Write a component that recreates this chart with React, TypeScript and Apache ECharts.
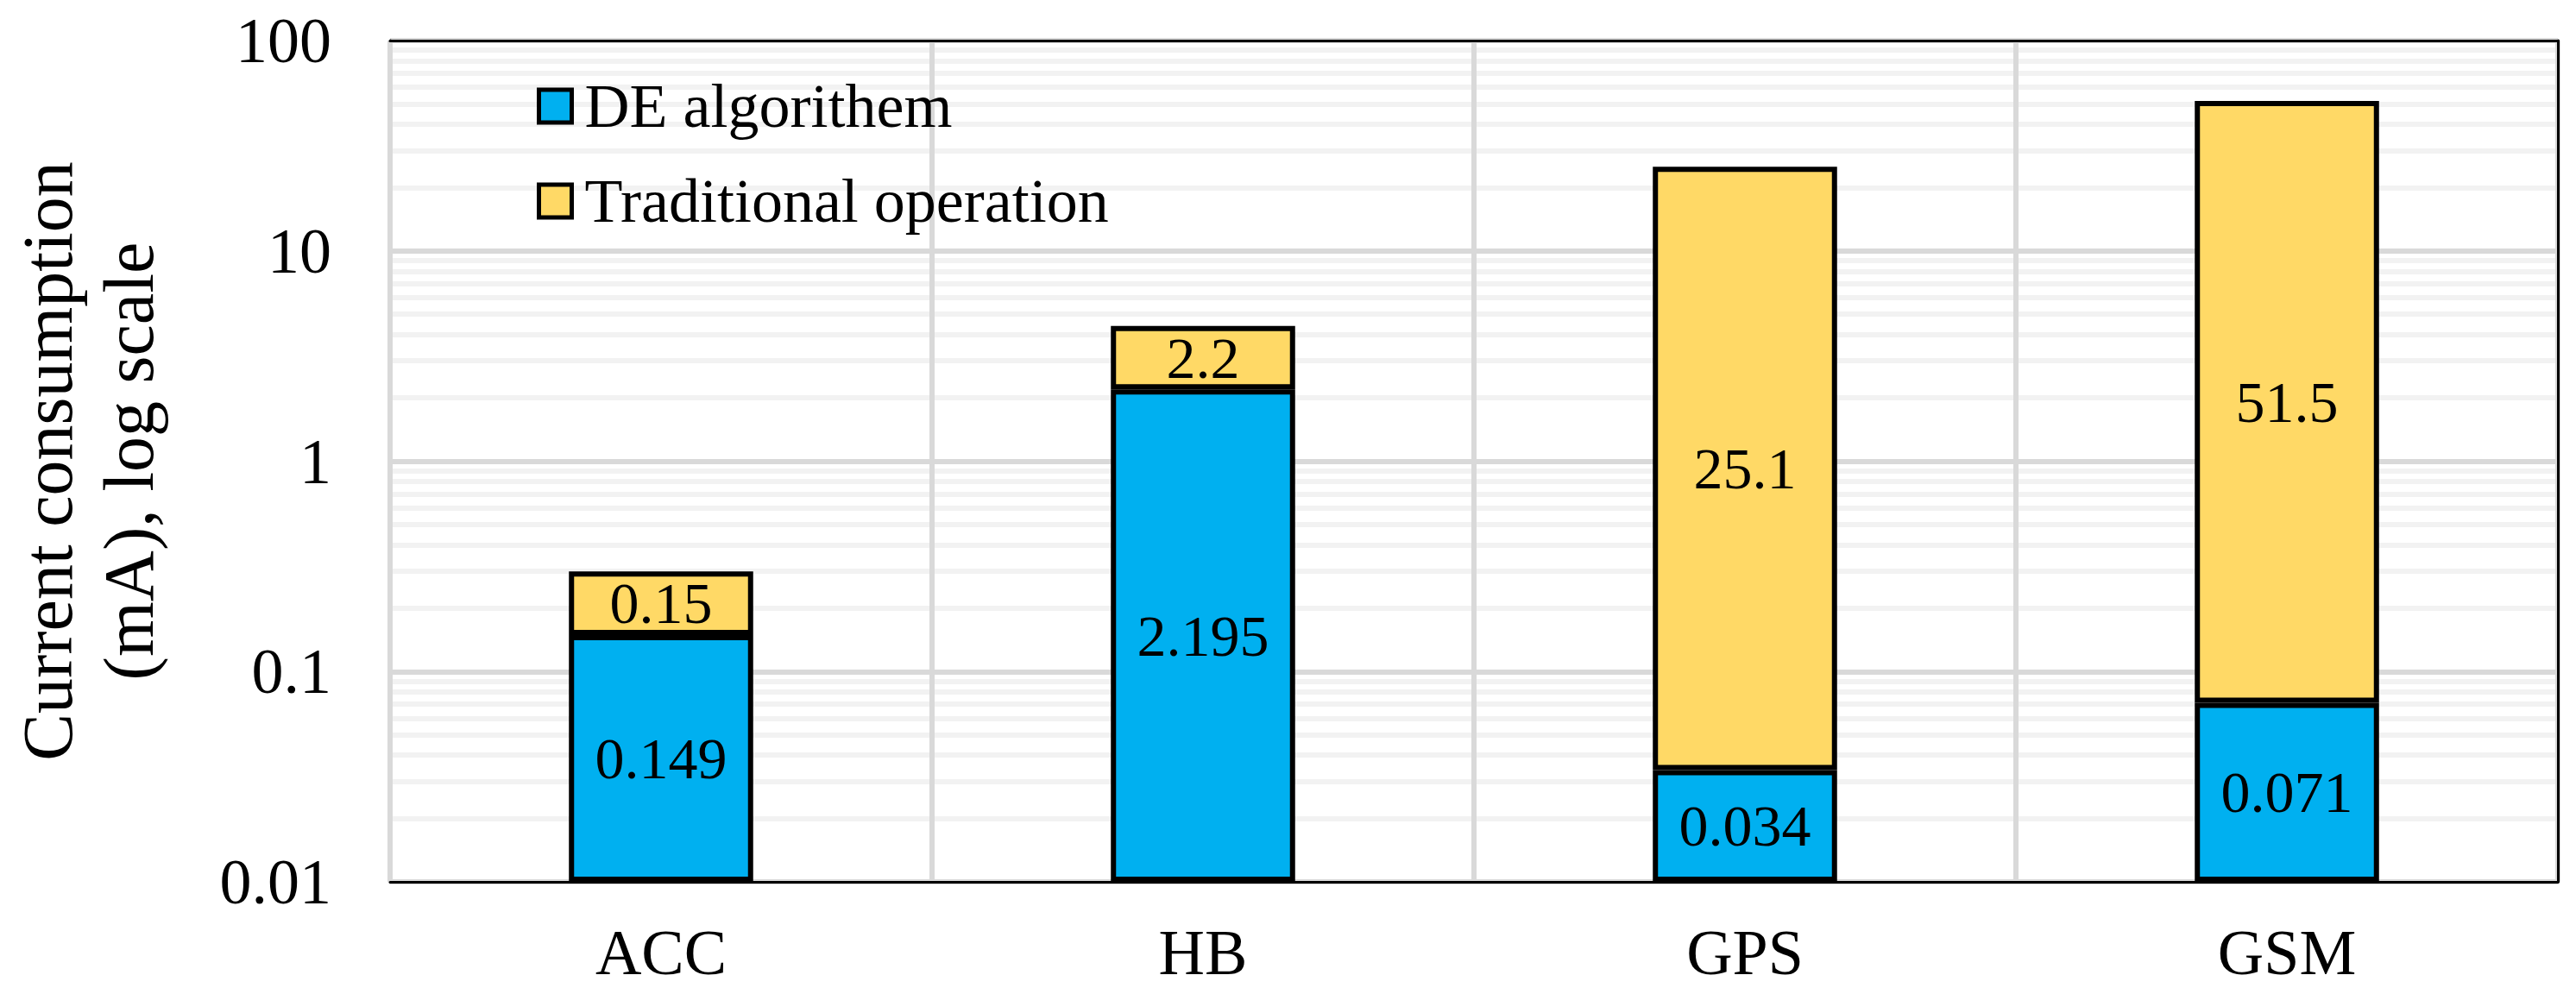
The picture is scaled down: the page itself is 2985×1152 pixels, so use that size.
import React, { useEffect, useRef } from "react";
import * as echarts from "echarts";

const categories = ["ACC", "HB", "GPS", "GSM"];
const deAlgorithm = [0.149, 2.195, 0.034, 0.071];
const traditional = [0.15, 2.2, 25.1, 51.5];
const seriesNames = ["DE algorithem", "Traditional operation"];
const yTickValues = [0.01, 0.1, 1, 10, 100];
const minorMultipliers = [2, 3, 4, 5, 6, 7, 8, 9];
const minorDecades = [0.01, 0.1, 1, 10];

const FONT = "'Liberation Serif', 'Times New Roman', serif";

export default function App() {
  const ref = useRef<HTMLDivElement>(null);
  useEffect(() => {
    document.body.style.margin = "0";
    const chart = echarts.init(ref.current!, null, { renderer: "svg" });
    const minorValues: number[] = [];
    minorDecades.forEach((d) =>
      minorMultipliers.forEach((m) => minorValues.push(Number((d * m).toPrecision(6))))
    );
    const fmt = (v: number) => String(Number(Number(v).toPrecision(6)));
    chart.setOption({
      animation: false,
      backgroundColor: "#ffffff",
      textStyle: { fontFamily: FONT },
      grid: { left: 449, top: 47, width: 2515, height: 975, containLabel: false },
      legend: {
        orient: "vertical",
        left: 622,
        top: 83,
        padding: 0,
        itemGap: 30,
        itemWidth: 38,
        itemHeight: 38,
        icon: "rect",
        itemStyle: { borderColor: "#000", borderWidth: 5 },
        textStyle: {
          fontFamily: FONT,
          fontSize: 72,
          color: "#000",
          lineHeight: 80,
          padding: [0, 0, 0, 10],
        },
        data: seriesNames,
      },
      xAxis: [
        {
          type: "category",
          data: categories,
          position: "bottom",
          z: 1.5,
          axisLine: { onZero: false, lineStyle: { color: "#000", width: 3 } },
          axisTick: { show: false },
          axisLabel: { fontFamily: FONT, fontSize: 74, color: "#000", margin: 45 },
          splitLine: { show: true, interval: 0, lineStyle: { color: "#d9d9d9", width: 6 } },
        },
        {
          type: "category",
          data: categories,
          position: "top",
          z: 3,
          axisLine: { show: true, onZero: false, lineStyle: { color: "#000", width: 3 } },
          axisTick: { show: false },
          axisLabel: { show: false },
          splitLine: { show: false },
        },
      ],
      yAxis: [
        {
          type: "log",
          logBase: 10,
          min: yTickValues[0],
          max: yTickValues[yTickValues.length - 1],
          startValue: yTickValues[0],
          name: "Current consumption\n(mA), log scale",
          nameLocation: "middle",
          nameRotate: 90,
          nameGap: 256,
          nameTextStyle: { fontFamily: FONT, fontSize: 82, lineHeight: 94, color: "#000" },
          axisLine: { show: true, lineStyle: { color: "#000", width: 3 } },
          axisTick: { show: false },
          axisLabel: { fontFamily: FONT, fontSize: 74, color: "#000", margin: 68, formatter: fmt },
          splitLine: { show: true, lineStyle: { color: "#d9d9d9", width: 6 } },
        },
        {
          type: "log",
          logBase: 10,
          min: yTickValues[0],
          max: yTickValues[yTickValues.length - 1],
          position: "right",
          z: 3,
          axisLine: { show: true, lineStyle: { color: "#000", width: 3 } },
          axisTick: { show: false },
          axisLabel: { show: false },
          splitLine: { show: false },
        },
      ],
      series: [
        {
          name: seriesNames[0],
          type: "bar",
          stack: "total",
          data: deAlgorithm,
          barWidth: "34%",
          itemStyle: { color: "#00B0F0", borderColor: "#000", borderWidth: 6 },
          label: {
            show: true,
            position: "inside",
            fontFamily: FONT,
            fontSize: 68,
            color: "#000",
            formatter: (p: any) => fmt(p.value),
          },
          markLine: {
            silent: true,
            z: 1,
            symbol: ["none", "none"],
            label: { show: false },
            lineStyle: { color: "#f2f2f2", width: 6, type: "solid" },
            data: minorValues.map((v) => ({ yAxis: v })),
          },
        },
        {
          name: seriesNames[1],
          type: "bar",
          stack: "total",
          data: traditional,
          barWidth: "34%",
          itemStyle: { color: "#FFD966", borderColor: "#000", borderWidth: 6 },
          label: {
            show: true,
            position: "inside",
            fontFamily: FONT,
            fontSize: 68,
            color: "#000",
            formatter: (p: any) => fmt(p.value),
          },
        },
      ],
    });
    return () => chart.dispose();
  }, []);
  return <div ref={ref} style={{ width: 2985, height: 1152 }} />;
}
